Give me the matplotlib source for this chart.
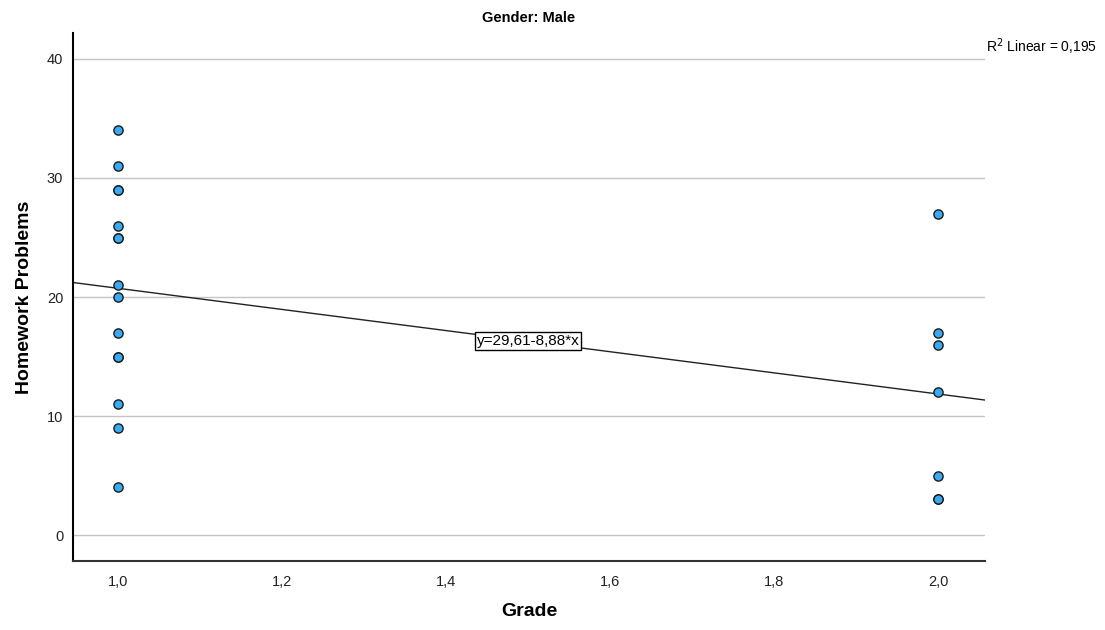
import matplotlib.pyplot as plt
import numpy as np

plt.rcParams["font.family"] = ["Liberation Sans", "DejaVu Sans"]

# homework problems per student, by grade (male students)
grade = [1, 1, 1, 1, 1, 1, 1, 1, 1, 1, 1, 1, 1, 1, 1,
         2, 2, 2, 2, 2, 2, 2]
problems = [34, 31, 29, 29, 26, 25, 25, 21, 20, 17, 15, 15, 11, 9, 4,
            27, 17, 16, 12, 5, 3, 3]

intercept = 29.61
slope = -8.88
r2 = 0.195

xticks = [1.0, 1.2, 1.4, 1.6, 1.8, 2.0]
yticks = [0, 10, 20, 30, 40]

fig = plt.figure(figsize=(11.05, 6.3), dpi=100)
ax = fig.add_axes([0.0661, 0.1095, 0.8253, 0.8381])

xmin, xmax = 0.945, 2.057
ax.set_xlim(xmin, xmax)
ax.set_ylim(-2.18, 42.18)

for t in yticks:
    ax.axhline(t, color="#c4c4c4", linewidth=1, zorder=1)

xs = np.array([xmin, xmax])
ax.plot(xs, intercept + slope * xs, color="#222222", linewidth=1, zorder=2)

ax.scatter(grade, problems, s=44, color="#3aaaf0", edgecolors="#1a1a1a",
           linewidths=1, zorder=3)

xl = 1.5
ax.text(xl, intercept + slope * xl, "y=29,61-8,88*x", ha="center", va="center",
        fontsize=11, zorder=4,
        bbox=dict(boxstyle="square,pad=0.12", facecolor="white", edgecolor="black", linewidth=1))

ax.set_xticks(xticks)
ax.set_xticklabels([f"{t:.1f}".replace(".", ",") for t in xticks])
ax.set_yticks(yticks)
ax.tick_params(length=0, labelsize=10.5, colors="#222222")
ax.tick_params(axis="x", pad=10)
ax.tick_params(axis="y", pad=7)

for side in ["top", "right"]:
    ax.spines[side].set_visible(False)
ax.spines["left"].set_linewidth(1.5)
ax.spines["bottom"].set_linewidth(1.5)
ax.spines["bottom"].set_color("#333333")

ax.set_title("Gender: Male", fontsize=10.5, fontweight="bold", pad=8)
ax.set_xlabel("Grade", fontsize=14, fontweight="bold", labelpad=10)
ax.set_ylabel("Homework Problems", fontsize=14, fontweight="bold", labelpad=10)

fig.text(0.993, 0.918, "R$^2$ Linear = " + f"{r2:.3f}".replace(".", ","),
         ha="right", va="baseline", fontsize=10)

fig.savefig("out.png", dpi=100)
